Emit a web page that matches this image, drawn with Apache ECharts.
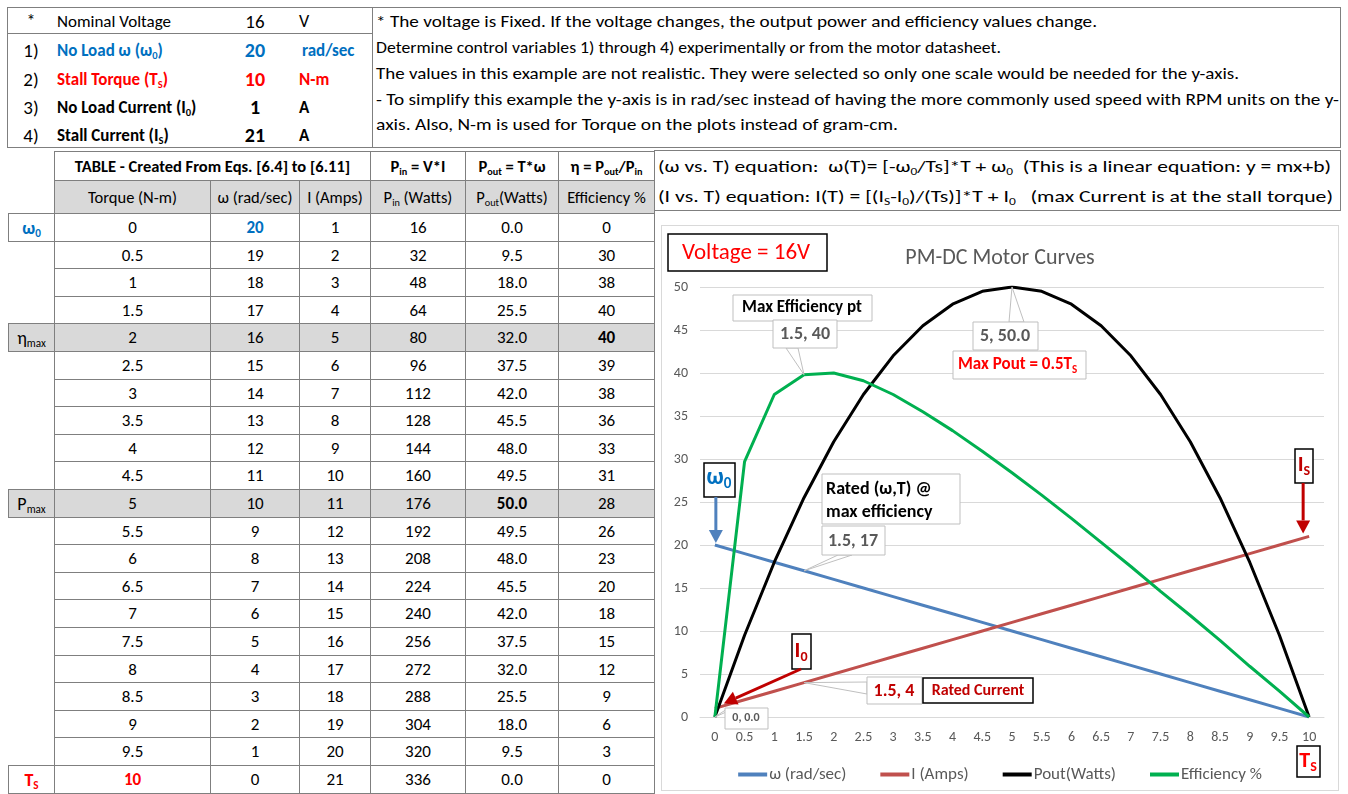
<!DOCTYPE html>
<html><head><meta charset="utf-8">
<script src="https://cdn.jsdelivr.net/npm/echarts@6/dist/echarts.min.js"></script>
<style>
html,body{margin:0;padding:0;background:#fff;width:1348px;height:794px;overflow:hidden;font-family:Carlito,Lato,"Liberation Sans",sans-serif;color:#000;}
.cell{position:absolute;box-sizing:border-box;border:1px solid #7f7f7f;display:flex;align-items:center;justify-content:center;font-size:16px;white-space:nowrap;}
.t{position:absolute;white-space:nowrap;line-height:1;}
.box{position:absolute;box-sizing:border-box;border:1px solid #7f7f7f;}
sub{font-size:0.62em;vertical-align:-0.3em;line-height:0;}
</style></head><body>
<div id="page"></div>
<div id="chart" style="position:absolute;left:661px;top:225px;width:676px;height:564px;border:1px solid #d9d9d9;"></div>
<script>
// ---------------- data ----------------
const torque = ['0','0.5','1','1.5','2','2.5','3','3.5','4','4.5','5','5.5','6','6.5','7','7.5','8','8.5','9','9.5','10'];
const omega = [20,19,18,17,16,15,14,13,12,11,10,9,8,7,6,5,4,3,2,1,0];
const current = [1,2,3,4,5,6,7,8,9,10,11,12,13,14,15,16,17,18,19,20,21];
const pin = [16,32,48,64,80,96,112,128,144,160,176,192,208,224,240,256,272,288,304,320,336];
const pout = [0.0,9.5,18.0,25.5,32.0,37.5,42.0,45.5,48.0,49.5,50.0,49.5,48.0,45.5,42.0,37.5,32.0,25.5,18.0,9.5,0.0];
const efficiency = [0,29.7,37.5,39.8,40,39.1,37.5,35.5,33.3,30.9,28.4,25.8,23.1,20.3,17.5,14.6,11.8,8.9,5.9,3.0,0];
const effTable = [0,30,38,40,40,39,38,36,33,31,28,26,23,20,18,15,12,9,6,3,0];
const rowLabels = {0:'ω<sub>0</sub>',4:'η<sub>max</sub>',10:'P<sub>max</sub>',20:'T<sub>S</sub>'};
const seriesNames = ['ω (rad/sec)','I (Amps)','Pout(Watts)','Efficiency %'];
const yTicks = {min:0,max:50,interval:5};

const paramMarks = ['*','1)','2)','3)','4)'];
const paramNames = ['Nominal Voltage','No Load ω (ω<sub>0</sub>)','Stall Torque (T<sub>S</sub>)','No Load Current (I<sub>0</sub>)','Stall Current (I<sub>S</sub>)'];
const paramValues = ['16','20','10','1','21'];
const paramUnits = ['V','rad/sec','N-m','A','A'];

const notes = [
 '* The voltage is Fixed. If the voltage changes, the output power and efficiency values change.',
 'Determine control variables 1) through 4) experimentally or from the motor datasheet.',
 'The values in this example are not realistic. They were selected so only one scale would be needed for the y-axis.',
 '- To simplify this example the y-axis is in rad/sec instead of having the more commonly used speed with RPM units on the y-',
 'axis. Also, N-m is used for Torque on the plots instead of gram-cm.'
];
const equations = [
 '(ω vs. T) equation:&nbsp; ω(T)= [-ω<sub>0</sub>/Ts]*T + ω<sub>0</sub>&nbsp; (This is a linear equation: y = mx+b)',
 '(I vs. T) equation: I(T) = [(I<sub>S</sub>-I<sub>0</sub>)/(Ts)]*T + I<sub>0</sub>&nbsp;&nbsp; (max Current is at the stall torque)'
];

// ---------------- page (table) ----------------
const FONT = 'Carlito, Lato, "Liberation Sans", sans-serif';
const BLUE = '#0070C0', RED = '#FF0000', DRED = '#C00000', GRAY = '#595959';
const page = document.getElementById('page');
function put(x,y,html,style,anchor){
  const d=document.createElement('div'); d.className='t'; d.innerHTML=html;
  d.style.left=x+'px'; d.style.top=y+'px';
  d.style.transform = anchor==='c' ? 'translate(-50%,-50%)' : 'translate(0,-50%)';
  Object.assign(d.style, style||{}); page.appendChild(d); return d;
}
function fitLine(d, target){
  const w=d.getBoundingClientRect().width;
  d.style.transformOrigin='left center';
  d.style.transform='translate(0,-50%) scaleX('+(target/w)+')';
}
function boxDiv(x1,y1,x2,y2,style){
  const d=document.createElement('div'); d.className='box';
  d.style.left=x1+'px'; d.style.top=y1+'px'; d.style.width=(x2-x1+1)+'px'; d.style.height=(y2-y1+1)+'px';
  Object.assign(d.style, style||{}); page.appendChild(d); return d;
}
function cell(x1,y1,x2,y2,html,style){
  const d=document.createElement('div'); d.className='cell';
  d.style.left=x1+'px'; d.style.top=y1+'px'; d.style.width=(x2-x1+1)+'px'; d.style.height=(y2-y1+1)+'px';
  d.innerHTML='<span>'+html+'</span>'; Object.assign(d.style, style||{}); page.appendChild(d); return d;
}

// top-left parameter box
boxDiv(7,7,372,147);
boxDiv(7,33,372,33,{borderWidth:'1px 0 0 0'});
const pRowY=[21,50,79,107,135];
const pColors=['#000',BLUE,RED,'#000','#000'];
paramMarks.forEach((m,i)=>{
  const bold = i>0 ? 'bold':'normal';
  put(31,pRowY[i],m,{fontSize:(i?19:18)+'px'},'c');
  put(57,pRowY[i],paramNames[i],{fontSize:'17px',fontWeight:bold,color:pColors[i]});
  put(255,pRowY[i],paramValues[i],{fontSize:(i?20:19)+'px',fontWeight:bold,color:pColors[i]},'c');
  put(i===1?302:299,pRowY[i],paramUnits[i],{fontSize:(i===0?18:17)+'px',fontWeight:bold,color:pColors[i]});
});

// notes box
boxDiv(372,7,1340,147);
const noteY=[22,48,74,100,125], noteEnd=[1097,1001,1239,1339,898];
notes.forEach((n,i)=>{ const d=put(376,noteY[i],n,{fontSize:'16px'}); fitLine(d, noteEnd[i]-376); });

// equations box
boxDiv(654,150,1340,210);
const eqY=[166,196], eqEnd=[1331,1333];
equations.forEach((n,i)=>{ const d=put(658,eqY[i],n,{fontSize:'17px'}); fitLine(d, eqEnd[i]-658); });

// main table
const COLS=[54,210,299,370,465,558,654];
const LX=8;
const hdr1=['P<sub>in</sub> = V*I','P<sub>out</sub> = T*ω','η = P<sub>out</sub>/P<sub>in</sub>'];
const hdr2=['Torque (N-m)','ω (rad/sec)','I (Amps)','P<sub>in</sub> (Watts)','P<sub>out</sub>(Watts)','Efficiency %'];
cell(COLS[0],151,COLS[3],180,'TABLE - Created From Eqs. [6.4] to [6.11]',{fontWeight:'bold',fontSize:'16.5px'});
hdr1.forEach((h,j)=>cell(COLS[3+j],151,COLS[4+j],180,h,{fontWeight:'bold',fontSize:'16.5px'}));
hdr2.forEach((h,j)=>cell(COLS[j],180,COLS[j+1],213,h,{background:'#d9d9d9',fontSize:'16.5px'}));
const rowTop=i=>Math.round(213+i*27.6);
torque.forEach((t,i)=>{
  const y1=rowTop(i), y2=rowTop(i+1);
  const gray = (i===4||i===10);
  const bg = gray ? {background:'#d9d9d9'} : {};
  if(rowLabels[i]!==undefined){
    const st = Object.assign({fontSize:'18px'},bg);
    if(i===0) Object.assign(st,{color:BLUE,fontWeight:'bold'});
    if(i===20) Object.assign(st,{color:RED,fontWeight:'bold'});
    cell(LX,y1,COLS[0],y2,rowLabels[i],st);
  }
  const vals=[t,String(omega[i]),String(current[i]),String(pin[i]),pout[i].toFixed(1),String(effTable[i])];
  vals.forEach((v,j)=>{
    const st=Object.assign({fontSize:'17px'},bg);
    if(i===0&&j===1) Object.assign(st,{color:BLUE,fontWeight:'bold'});
    if(i===20&&j===0) Object.assign(st,{color:RED,fontWeight:'bold'});
    if(i===4&&j===5) st.fontWeight='bold';
    if(i===10&&j===4) st.fontWeight='bold';
    cell(COLS[j],y1,COLS[j+1],y2,v,st);
  });
});

// ---------------- chart ----------------
const chart = echarts.init(document.getElementById('chart'));
const colors=['#4F81BD','#C0504D','#000000','#00B050'];
const values=[omega,current,pout,efficiency];
chart.setOption({
  animation:false,
  textStyle:{fontFamily:FONT},
  title:{text:'PM-DC Motor Curves',left:'center',top:16,textStyle:{fontFamily:FONT,fontSize:22,fontWeight:'normal',color:GRAY}},
  grid:{left:38,right:14,top:61,bottom:73},
  legend:{top:535,left:'center',icon:'rect',itemWidth:29,itemHeight:4,itemGap:34,
    textStyle:{fontFamily:FONT,fontSize:17,color:GRAY,padding:[0,0,0,-3]},data:seriesNames},
  xAxis:{type:'category',data:torque,boundaryGap:true,axisTick:{show:false},
    axisLine:{lineStyle:{color:'#d9d9d9',width:1}},
    axisLabel:{interval:0,color:GRAY,fontSize:14,margin:13,fontFamily:FONT}},
  yAxis:{type:'value',min:yTicks.min,max:yTicks.max,interval:yTicks.interval,
    splitLine:{lineStyle:{color:'#d9d9d9'}},axisLine:{show:false},axisTick:{show:false},
    axisLabel:{color:GRAY,fontSize:14,margin:12,fontFamily:FONT}},
  series:seriesNames.map((n,k)=>({name:n,type:'line',data:values[k],showSymbol:false,
    lineStyle:{color:colors[k],width:3},itemStyle:{color:colors[k]}}))
});

// annotations (positions of boxes are page-layout; targets come from the axes)
const OX=662, OY=226;
const P=(i,v)=>chart.convertToPixel({xAxisIndex:0,yAxisIndex:0},[torque[i],v]);
const g=[];
function rect(x1,y1,x2,y2,stroke,lw,z){g.push({type:'rect',z:z||50,shape:{x:x1-OX,y:y1-OY,width:x2-x1,height:y2-y1},style:{fill:'#fff',stroke:stroke,lineWidth:lw||1}});}
function text(x,y,t,font,color,align,z){g.push({type:'text',z:z||60,x:x-OX,y:y-OY,style:{text:t,font:font,fill:color,align:align||'center',verticalAlign:'middle',textAlign:align||'center',textVerticalAlign:'middle'}});}
const mctx=document.createElement('canvas').getContext('2d');
function tw(t,f){mctx.font=f;return mctx.measureText(t).width;}
function subText(cx,cy,main,sub,size,color,weight){
  const f1=(weight||'bold')+' '+size+'px '+FONT, f2=(weight||'bold')+' '+Math.round(size*0.62)+'px '+FONT;
  const w=tw(main,f1)+tw(sub,f2); const x0=cx-w/2;
  text(x0,cy,main,f1,color,'left'); text(x0+tw(main,f1),cy+size*0.28,sub,f2,color,'left');
}
function wedge(a,b,t,z){g.push({type:'polygon',z:z||45,shape:{points:[[a[0]-OX,a[1]-OY],t,[b[0]-OX,b[1]-OY]]},style:{fill:'#fff',stroke:'#bfbfbf',lineWidth:1}});}
function arrow(from,to,color){
  const dx=to[0]-from[0], dy=to[1]-from[1], L=Math.hypot(dx,dy), ux=dx/L, uy=dy/L, hl=13, hw=7;
  const bx=to[0]-ux*hl, by=to[1]-uy*hl;
  g.push({type:'line',z:70,shape:{x1:from[0],y1:from[1],x2:bx,y2:by},style:{stroke:color,lineWidth:3}});
  g.push({type:'polygon',z:70,shape:{points:[[to[0],to[1]],[bx-uy*hw,by+ux*hw],[bx+uy*hw,by-ux*hw]]},style:{fill:color}});
}
const F=(s,w)=>(w||'bold')+' '+s+'px '+FONT;

// Voltage box
rect(668,234,827,271,'#000',1.5);
text(746,253,'Voltage = 16V',F(23,'normal'),RED);
// Max efficiency
rect(733,295,872,321,'#bfbfbf',1);
text(802,308,'Max Efficiency pt',F(17),'#000');
wedge([786,348],[798,348],P(3,efficiency[3]));
rect(773,320,837,348,'#bfbfbf',1);
text(805,334,'1.5, 40',F(18),GRAY);
// Max Pout
wedge([1009,322],[1024,322],P(10,pout[10]));
rect(973,322,1038,350,'#bfbfbf',1);
text(1005,336,'5, 50.0',F(18),GRAY);
rect(953,351,1086,379,'#bfbfbf',1);
(function(){const f1=F(17),f2=F(11);const w=tw('Max Pout = 0.5T',f1);text(958,365,'Max Pout = 0.5T',f1,RED,'left');text(958+w,370,'S',f2,RED,'left');})();
// omega0
rect(704,463,735,497,'#000',1.5);
subText(719,478,'ω','0',24,BLUE);
(function(){const t=P(0,omega[0]);arrow([t[0]+1,497-OY],[t[0]+1,t[1]-2],'#4F81BD');})();
// Rated
rect(822,474,960,524,'#bfbfbf',1);
text(826,489,'Rated (ω,T) @',F(18),'#000','left');
text(826,512,'max efficiency',F(18),'#000','left');
wedge([838,555],[852,555],P(3,omega[3]));
rect(822,526,885,555,'#bfbfbf',1);
text(853,541,'1.5, 17',F(18),GRAY);
// I0
rect(792,634,811,669,'#000',1.5);
subText(801,651,'I','0',22,DRED);
(function(){const t=P(0,current[0]);arrow([801-OX,669-OY],[t[0]+9,t[1]-5],DRED);})();
// Rated current
wedge([867,682],[867,694],P(3,current[3]));
rect(867,677,922,704,'#bfbfbf',1);
text(894,691,'1.5, 4',F(18),DRED);
rect(923,678,1033,703,'#000',1.5);
text(978,691,'Rated Current',F(16),DRED);
// 0, 0.0
wedge([727,709],[733,709],P(0,pout[0]));
rect(725,708,768,729,'#bfbfbf',1);
text(746,718,'0, 0.0',F(12),GRAY);
// Is
rect(1295,449,1313,483,'#000',1.5);
subText(1304,465,'I','S',22,DRED);
(function(){const t=P(20,current[20]);arrow([t[0]-6,483-OY],[t[0]-6,t[1]-3],DRED);})();
// Ts
rect(1297,746,1320,777,'#000',1.5);
subText(1308,761,'T','S',22,RED);

chart.setOption({graphic:{elements:g}});
</script>
</body></html>
